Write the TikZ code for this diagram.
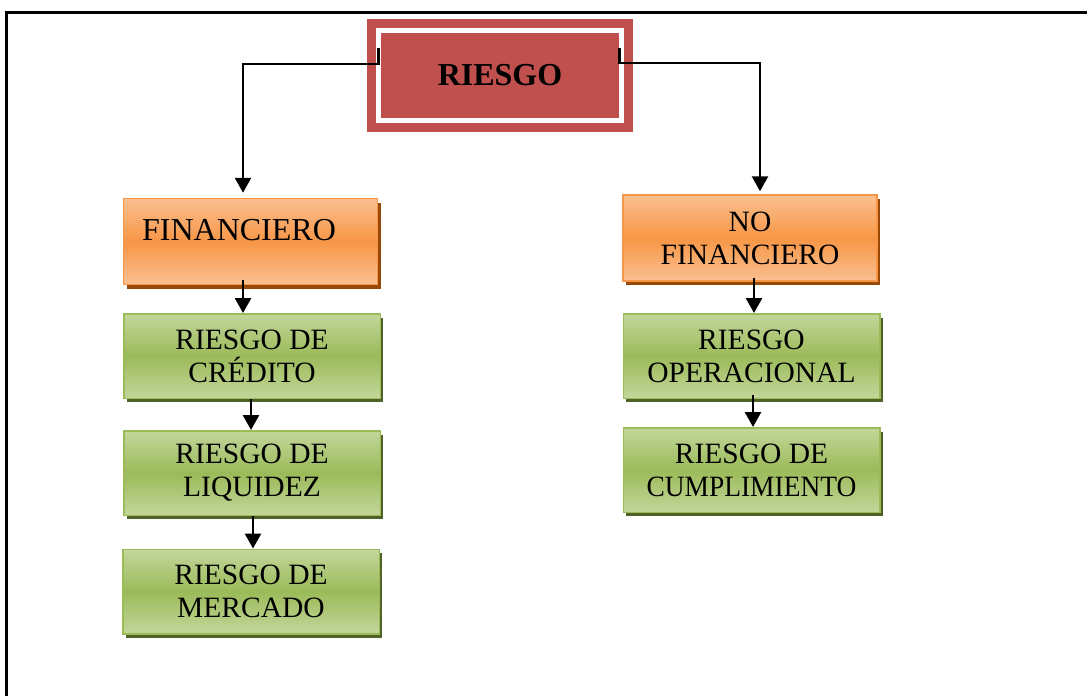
\documentclass[tikz,border=0pt]{standalone}
\usepackage{fontspec}
\setmainfont{Liberation Serif}
\usetikzlibrary{arrows.meta,shadows}

\definecolor{riesgored}{HTML}{C0504D}
\definecolor{boxorange}{HTML}{F79646}
\definecolor{lightorange}{HTML}{FAC090}
\definecolor{darkorange}{HTML}{984807}
\definecolor{boxgreen}{HTML}{9BBB59}
\definecolor{lightgreen}{HTML}{C3D69B}
\definecolor{darkgreen}{HTML}{4F6228}

\begin{document}
\begin{tikzpicture}[x=1pt, y=-1pt,
    box/.style={rectangle, line width=1.5pt, align=center, inner sep=0pt, font=\fontsize{29.5}{33}\selectfont},
    greenbox/.style={box, draw=boxgreen, top color=lightgreen, bottom color=lightgreen, middle color=boxgreen, minimum width=256.5pt, minimum height=84.5pt, general shadow={fill=darkgreen, shadow xshift=3pt, shadow yshift=-4pt}},
    orangebox/.style={box, draw=boxorange, top color=lightorange, bottom color=lightorange, middle color=boxorange, minimum width=254pt, minimum height=86pt, general shadow={fill=darkorange, shadow xshift=3pt, shadow yshift=-4pt}},
    topbox/.style={rectangle, fill=riesgored, draw=riesgored, line width=9.25pt, double=white, double distance=4.5pt, outer sep=0pt, minimum width=243pt, minimum height=90pt, font=\fontsize{32}{36}\selectfont\bfseries},
    arrow/.style={line width=2.5pt, -{Triangle[width=16pt,length=15pt]}}
]
\useasboundingbox (0,0) rectangle (1087,696);

% page frame
\draw[line width=3pt] (6,696) -- (6,12) -- (1087,12);

\node[topbox] (riesgo) at (500,75.5) {RIESGO};

\node[orangebox] (fin) at (250.5,241.5) {};
\node[anchor=base, font=\fontsize{32}{36}\selectfont] (fintext) at (239,240) {FINANCIERO};
\node[orangebox] (nofin) at (750,238) {NO\\FINANCIERO};

\node[greenbox] (cred) at (252,356) {RIESGO DE\\CRÉDITO};
\node[greenbox] (liq) at (252,473) {RIESGO DE\\LIQUIDEZ};
\node[greenbox] (merc) at (251,591.5) {RIESGO DE\\MERCADO};

\node[greenbox] (oper) at (751.5,356) {RIESGO\\OPERACIONAL};
\node[greenbox] (cump) at (751.5,470) {RIESGO DE\\\scalebox{0.93}[1]{CUMPLIMIENTO}};

% connectors
\draw[arrow, shorten >=5pt] ([yshift=27.5pt]riesgo.west) -- ++(0,16) -| ([xshift=-7.5pt]fin.north);
\draw[arrow, shorten >=3pt] ([xshift=-2pt, yshift=27.5pt]riesgo.east) -- ++(0,15) -| ([xshift=10pt]nofin.north);

\draw[arrow] ([xshift=-7.5pt, yshift=5pt]fin.south) -- ([xshift=-7.5pt]fin.south |- cred.north);
\draw[arrow] ([xshift=-1pt]cred.south) -- ([xshift=-1pt]cred.south |- liq.north);
\draw[arrow] ([xshift=1pt]liq.south) -- ([xshift=1pt]liq.south |- merc.north);

\draw[arrow] ([xshift=4pt, yshift=4pt]nofin.south) -- ([xshift=4pt]nofin.south |- oper.north);
\draw[arrow] ([xshift=1.5pt, yshift=4pt]oper.south) -- ([xshift=1.5pt]oper.south |- cump.north);

\end{tikzpicture}
\end{document}
